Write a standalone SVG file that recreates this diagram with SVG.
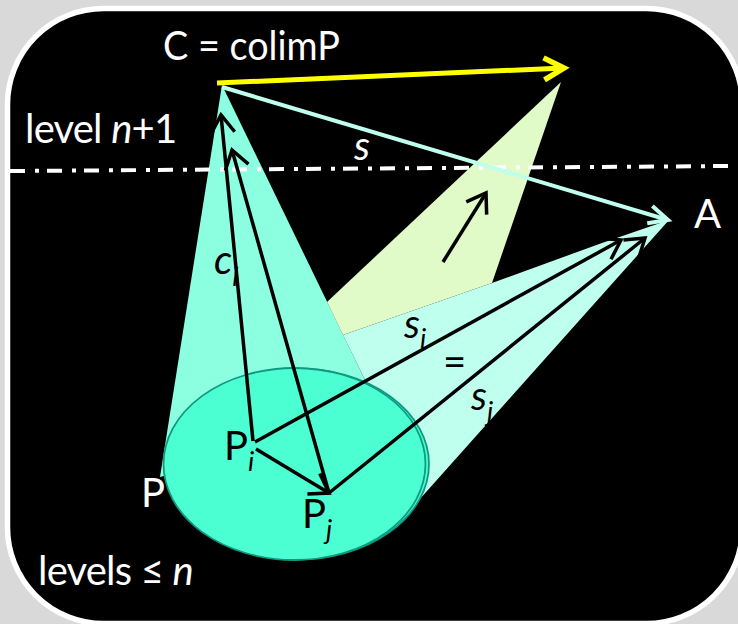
<svg xmlns="http://www.w3.org/2000/svg" width="738" height="624" viewBox="0 0 738 624">
<style>
text{font-family:"Lato","Open Sans","Liberation Sans",sans-serif;font-size:40px}
.w{fill:#fff}.k{fill:#000}.it{font-style:italic}.sub{font-size:27px;font-style:italic}
.b{stroke:#000;stroke-width:3.500;fill:none}
.e{stroke:#0f9a80;stroke-width:1.800;fill:#4cffd2}
.tight{letter-spacing:-0.800px}
</style>
<defs>
<marker id="hk" markerUnits="userSpaceOnUse" markerWidth="30" markerHeight="34" refX="24" refY="17" orient="auto" overflow="visible"><path d="M6,5 L24,17 L6,29" fill="none" stroke="#000" stroke-width="3.500"/></marker>
<marker id="hy" markerUnits="userSpaceOnUse" markerWidth="30" markerHeight="34" refX="24" refY="17" orient="auto" overflow="visible"><path d="M4,6 L24,17 L4,28" fill="none" stroke="#ff0" stroke-width="5.500"/></marker>
<marker id="hc" markerUnits="userSpaceOnUse" markerWidth="30" markerHeight="34" refX="24" refY="17" orient="auto" overflow="visible"><path d="M5,8 L24,17 L5,26" fill="none" stroke="#bfffee" stroke-width="4"/></marker>
</defs>
<rect width="738" height="624" fill="#d9d9d9"/>
<rect id="frame" x="7.5" y="8.5" width="735" height="615" rx="96" ry="96" fill="#000" stroke="#fff" stroke-width="5.500"/>
<g id="upper-cone"><polygon points="561,82 327,302 343,335 492,283" fill="#e0fac8"/></g>
<g id="light-cone"><polygon points="669,220 602,243 492,283 343,335 365,380 419,500" fill="#bfffee"/></g>
<g id="left-cone"><polygon points="222,85 160,477 300,440 365,380" fill="#8cffe0"/></g>
<g id="base">
<ellipse cx="297" cy="464" rx="132" ry="95.500" class="e"/>
<ellipse cx="294.500" cy="464" rx="131" ry="96" class="e"/>
</g>
<g id="connectors">
<line x1="10" y1="171" x2="730" y2="166" stroke="#fff" stroke-width="4" stroke-dasharray="15 10 4 8"/>
<line x1="217" y1="83" x2="564" y2="68" stroke="#ff0" stroke-width="5" marker-end="url(#hy)"/>
<line x1="222" y1="87" x2="668" y2="220" stroke="#bfffee" stroke-width="4" marker-end="url(#hc)"/>
<line x1="253" y1="441" x2="221" y2="115" class="b" marker-end="url(#hk)"/>
<line x1="329" y1="493" x2="232" y2="150" class="b" marker-end="url(#hk)"/>
<line x1="256" y1="449" x2="329" y2="493" class="b" marker-end="url(#hk)"/>
<line x1="255" y1="442" x2="621" y2="240" class="b" marker-end="url(#hk)"/>
<line x1="329" y1="493" x2="645" y2="238" class="b" marker-end="url(#hk)"/>
<line x1="443" y1="262" x2="486" y2="193" class="b" marker-end="url(#hk)"/>
</g>
<g id="label-colim"><text x="163" y="60" class="w" textLength="177" lengthAdjust="spacingAndGlyphs">C = colimP</text></g>
<g id="label-level"><text x="25" y="143" class="w tight">level <tspan class="it">n</tspan>+1</text></g>
<g id="label-s"><text x="354" y="160" class="w it">s</text></g>
<g id="label-ci"><text x="214" y="274" class="k it">c<tspan class="sub" dy="12">i</tspan></text></g>
<g id="label-p"><text x="141" y="507" class="w">P</text></g>
<g id="label-pi"><text x="224" y="460" class="k">P<tspan class="sub" dy="11">i</tspan></text></g>
<g id="label-pj"><text x="302" y="528" class="k">P<tspan class="sub" dy="11">j</tspan></text></g>
<g id="label-levels"><text x="38" y="585" class="w tight">levels ≤ <tspan class="it">n</tspan></text></g>
<g id="label-a"><text x="694" y="228" class="w">A</text></g>
<g id="label-si"><text x="404" y="338" class="k it">s<tspan class="sub" dy="10">i</tspan></text></g>
<g id="label-eq"><text x="443" y="376" class="k">=</text></g>
<g id="label-sj"><text x="471" y="410" class="k it">s<tspan class="sub" dy="11">j</tspan></text></g>
</svg>
